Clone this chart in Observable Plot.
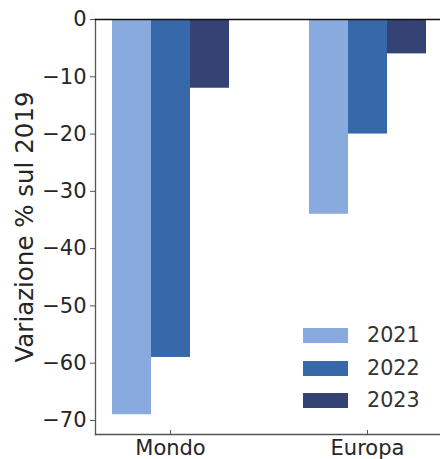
<!DOCTYPE html>
<html><head><meta charset="utf-8">
<script src="https://cdn.jsdelivr.net/npm/d3@7"></script>
<script src="https://cdn.jsdelivr.net/npm/@observablehq/plot@0.6"></script>
<style>
body{margin:0;background:#fff;}
#wrap{position:relative;width:440px;height:459px;overflow:hidden;background:#fff;}
#legend{position:absolute;left:303px;top:328px;font-family:"DejaVu Sans",sans-serif;font-size:20.7px;color:#333;}
.row{position:relative;height:32.6px;}
.sw{position:absolute;left:0;top:0;width:45px;height:15px;}
.lb{position:absolute;left:64px;top:-5px;line-height:25px;white-space:nowrap;}
</style></head><body><div id="wrap"></div>
<script>
const categories = ["Mondo", "Europa"];
const years = ["2021", "2022", "2023"];
const v2021 = [-69, -34];
const v2022 = [-59, -20];
const v2023 = [-12, -6];
const colors = ["#89aadf", "#3668aa", "#344374"];
const yTicks = [0, -10, -20, -30, -40, -50, -60, -70];
const yLabel = "Variazione % sul 2019";

const series = [v2021, v2022, v2023];
const data = categories.flatMap((c, i) => years.map((y, j) => ({category: c, year: y, value: series[j][i]})));

const chart = Plot.plot({
  width: 440, height: 459,
  marginLeft: 95, marginRight: -3, marginTop: 19, marginBottom: 25,
  style: {fontFamily: "DejaVu Sans", fontSize: "21px", color: "#262626", background: "#fff", overflow: "visible"},
  fx: {domain: categories, paddingInner: 0.238, paddingOuter: 0, label: null},
  x: {domain: years, paddingInner: 0, paddingOuter: 0.404, axis: null},
  y: {domain: [-72.45, 0], label: null, axis: null},
  color: {domain: years, range: colors},
  marks: [
    Plot.barY(data, {fx: "category", x: "year", y: "value", fill: "year"}),
    Plot.frame({anchor: "left", facet: "super", stroke: "#555", strokeWidth: 1.3}),
    Plot.frame({anchor: "bottom", facet: "super", stroke: "#555", strokeWidth: 1.3}),
    Plot.frame({anchor: "top", facet: "super", stroke: "#111", strokeWidth: 1.6}),
    Plot.axisY(yTicks, {tickSize: 5, tickPadding: 4, tickFormat: d3.format("d"), stroke: "#555", fill: "#262626", fontSize: 21, label: null}),
    Plot.axisFx({anchor: "bottom", tickSize: -4, tickPadding: 10, stroke: "#555", fill: "#262626", fontSize: 21, label: null}),
    Plot.text([yLabel], {facet: "super", text: d => d, frameAnchor: "left", textAnchor: "middle", rotate: -90, dx: -70, fontSize: 24.5, fill: "#262626"})
  ]
});
const wrap = document.getElementById("wrap");
wrap.appendChild(chart);
const lg = document.createElement("div");
lg.id = "legend";
years.forEach((y, i) => {
  const r = document.createElement("div"); r.className = "row";
  const s = document.createElement("div"); s.className = "sw"; s.style.background = colors[i];
  const l = document.createElement("div"); l.className = "lb"; l.textContent = y;
  r.appendChild(s); r.appendChild(l); lg.appendChild(r);
});
wrap.appendChild(lg);
</script></body></html>
